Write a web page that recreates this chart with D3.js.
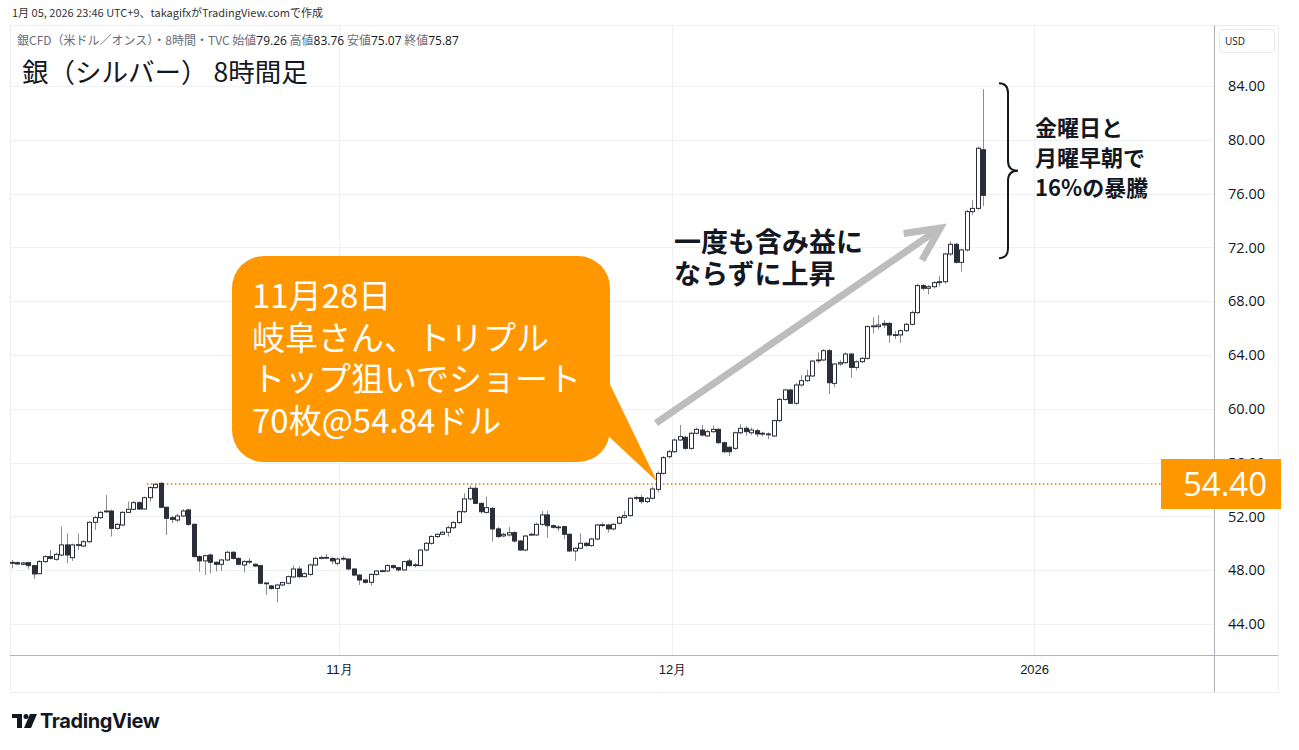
<!DOCTYPE html>
<html><head><meta charset="utf-8">
<script src="https://cdn.jsdelivr.net/npm/d3@7"></script>
<style>
body{margin:0;background:#fff;}
svg{display:block;font-family:"Noto Sans CJK JP","Noto Sans",sans-serif;}
</style></head><body>
<svg id="c" width="1299" height="750"></svg>
<script>
// ---- data (8-hour candles, index 0..176) ----
const opens=[48.58,48.56,48.44,48.56,48.34,47.74,48.64,49.01,48.81,49.13,49.88,48.93,49.88,49.80,50.12,51.56,51.91,52.35,52.40,51.11,51.36,52.30,52.53,53.02,52.55,53.39,54.14,54.46,52.68,51.91,51.73,52.03,52.48,51.41,49.01,48.69,49.13,48.59,48.44,48.76,49.33,48.88,48.39,48.64,48.44,48.34,47.03,46.83,46.65,46.90,47.03,47.50,48.09,47.52,47.69,48.39,48.90,48.93,48.88,48.51,48.86,48.83,48.09,47.64,47.27,47.10,47.69,47.94,47.94,48.34,48.19,48.02,48.69,48.38,48.34,49.50,50.00,50.50,50.67,50.82,51.16,51.54,52.35,53.30,54.09,52.97,52.30,52.60,51.07,50.55,50.62,50.79,50.17,49.50,50.65,50.62,51.41,52.11,51.31,51.19,51.24,50.67,49.43,49.63,50.00,49.83,50.32,51.36,51.36,51.07,51.49,51.93,52.06,53.38,53.40,53.10,53.35,54.01,55.20,56.44,56.81,57.68,57.88,57.06,58.18,58.42,57.98,58.30,58.47,57.48,57.14,57.06,58.22,58.55,58.22,58.37,58.18,58.13,57.98,59.12,60.70,61.40,60.41,61.77,62.09,62.44,63.60,63.63,64.32,61.89,63.33,63.43,64.07,63.08,63.50,63.75,66.14,66.11,66.35,66.35,65.49,65.49,65.81,66.28,67.15,69.16,68.96,69.08,69.38,69.45,71.51,72.23,70.89,71.81,74.66,74.90,79.26];
const highs=[48.76,48.64,48.60,48.62,48.40,48.76,49.13,49.50,49.30,51.24,50.74,49.98,50.74,50.25,51.65,52.05,52.40,53.59,52.50,51.50,52.40,53.10,53.15,53.12,53.47,54.25,54.45,54.55,52.75,52.05,52.20,52.55,52.55,51.50,49.10,49.15,49.25,48.65,48.85,49.45,49.42,48.95,48.75,48.90,48.50,48.40,47.10,46.90,47.00,47.15,47.60,48.35,48.30,47.85,48.50,49.00,49.10,49.20,48.95,48.95,49.05,48.90,48.15,47.70,47.35,47.75,48.00,48.05,48.45,48.40,48.25,48.70,48.88,48.55,49.55,50.10,50.60,50.75,50.90,51.30,51.65,52.45,53.72,54.30,54.30,53.05,53.47,52.70,51.20,50.80,51.20,50.90,50.25,50.62,50.80,51.55,52.40,52.40,51.40,51.35,51.30,50.75,49.70,50.75,50.10,50.40,51.45,51.55,51.45,51.50,52.05,52.40,53.45,53.55,53.60,53.45,54.20,55.35,56.50,56.95,57.80,58.80,58.00,58.30,58.60,58.80,58.45,58.75,58.60,57.55,57.25,58.30,58.85,58.70,58.60,58.50,58.30,58.25,59.20,60.80,61.50,61.50,61.90,62.50,62.90,63.65,64.20,64.45,64.45,63.40,63.60,64.20,64.15,63.60,63.85,66.20,66.80,66.95,66.60,66.45,65.80,65.90,66.40,67.30,69.30,69.30,69.20,69.50,69.90,71.60,72.45,72.35,71.90,74.80,75.50,79.50,83.76];
const lows=[48.14,48.40,48.38,48.10,47.35,47.70,48.55,48.80,48.70,49.05,48.51,48.69,49.50,49.70,50.00,51.00,51.80,52.25,50.50,51.00,51.30,52.25,52.45,52.48,52.50,53.10,54.05,52.60,50.62,51.50,51.55,51.95,51.30,48.95,47.89,47.64,47.77,47.90,47.95,48.70,48.80,48.35,47.84,48.45,48.25,46.95,46.16,46.55,45.61,46.80,46.95,47.40,47.40,47.45,47.60,48.30,48.80,48.85,48.45,48.35,48.70,48.00,47.55,46.90,47.00,46.85,47.60,47.85,47.85,48.10,47.90,47.95,48.25,48.20,48.30,49.40,49.90,50.40,50.60,50.50,51.05,51.45,52.25,53.20,52.90,52.20,52.20,50.12,50.40,50.45,50.50,50.05,49.45,49.40,50.55,50.55,51.30,50.40,51.10,50.90,50.30,49.35,48.69,49.55,49.75,49.75,50.25,51.20,50.80,50.95,51.40,51.85,52.00,53.20,52.95,53.00,53.25,53.80,55.10,56.30,56.70,57.60,56.95,56.95,58.10,57.95,57.90,58.20,57.40,56.70,56.50,56.95,58.10,58.00,58.05,57.90,57.95,57.75,57.90,59.00,60.60,60.35,60.30,61.65,62.00,62.35,63.40,63.55,61.10,61.60,63.20,63.35,62.30,62.85,63.40,63.65,65.60,65.90,66.00,64.90,65.20,64.90,65.70,66.20,67.05,68.80,68.50,68.95,69.10,69.30,71.35,70.80,70.20,71.70,74.40,74.80,75.07];
const closes=[48.55,48.46,48.54,48.34,47.72,48.64,49.01,48.88,49.18,49.88,49.13,49.88,49.90,50.12,51.56,51.91,52.30,52.40,51.11,51.41,52.30,52.53,53.02,52.55,53.39,54.14,54.39,52.68,51.86,51.78,52.03,52.40,51.41,49.01,48.69,49.08,48.59,48.44,48.76,49.33,48.88,48.44,48.64,48.66,48.31,47.03,47.05,46.65,46.90,47.08,47.52,48.09,47.52,47.74,48.39,48.88,48.94,48.95,48.69,48.83,48.88,48.09,47.64,47.27,47.10,47.69,47.94,47.96,48.34,48.19,48.02,48.64,48.34,48.40,49.50,50.00,50.50,50.67,50.82,51.16,51.54,52.35,53.30,54.09,52.97,52.35,52.65,51.07,50.50,50.67,50.79,50.17,49.50,50.54,50.67,51.41,52.11,51.31,51.19,51.21,50.67,49.43,49.63,50.00,49.83,50.32,51.36,51.38,51.07,51.41,51.93,52.06,53.35,53.40,53.10,53.35,54.04,55.20,56.37,56.81,57.68,57.93,57.06,58.18,58.47,58.05,58.30,58.47,57.48,56.81,56.81,58.22,58.55,58.30,58.42,58.13,58.16,58.11,59.12,60.70,61.40,60.41,61.77,62.09,62.44,63.55,63.63,64.32,61.94,63.33,63.43,64.07,63.08,63.50,63.75,66.11,66.16,66.23,66.23,65.49,65.51,65.81,66.28,67.15,69.16,68.96,69.08,69.38,69.45,71.51,72.23,70.89,71.81,74.66,74.90,79.37,75.87];
const priceTicks=[44,48,52,56,60,64,68,72,76,80,84];
const timeTickIdx=[59.3,119.6,185.2];
const timeTickLabels=["11月","12月","2026"];
const levelPrice=54.40;
const levelStartIdx=24.5;
const arrowFrom=[116.7,58.94], arrowTo=[168.2,73.44];
const calloutTip=[116.9,54.60];
const braceTop=84.2, braceBottom=71.2;
const calloutLines=["11月28日","岐阜さん、トリプル","トップ狙いでショート","70枚@54.84ドル"];
const arrowText=["一度も含み益に","ならずに上昇"];
const braceText=["金曜日と","月曜早朝で","16%の暴騰"];

// ---- layout ----
const svg=d3.select("#c");
const paneL=10, paneR=1214, paneT=25, paneB=655, axisR=1278, bottomB=692;
const x=d3.scaleLinear().domain([0,176]).range([11.7,983.3]);
const y=d3.scaleLinear().domain([44,84]).range([624,86]);
const candles=opens.map((o,i)=>({i,o,h:highs[i],l:lows[i],c:closes[i]}));

// credit line
svg.append("text").attr("x",12).attr("y",17).attr("font-size",11).attr("fill","#333")
  .text("1月 05, 2026 23:46 UTC+9、takagifxがTradingView.comで作成");

// pane frame
svg.append("rect").attr("x",paneL+0.5).attr("y",paneT+0.5).attr("width",axisR-paneL).attr("height",bottomB-paneT)
  .attr("fill","#fff").attr("stroke","#eceef2");

// grid
svg.append("g").selectAll("line").data(priceTicks).join("line")
  .attr("x1",paneL).attr("x2",paneR).attr("y1",d=>Math.round(y(d))+0.5).attr("y2",d=>Math.round(y(d))+0.5)
  .attr("stroke","#eef0f4");
svg.append("g").selectAll("line").data(timeTickIdx).join("line")
  .attr("x1",d=>Math.round(x(d))+0.5).attr("x2",d=>Math.round(x(d))+0.5).attr("y1",paneT).attr("y2",paneB)
  .attr("stroke","#eef0f4");

// axis lines
svg.append("line").attr("x1",paneL).attr("x2",axisR).attr("y1",paneB+0.5).attr("y2",paneB+0.5).attr("stroke","#b2b5be");
svg.append("line").attr("x1",paneR+0.5).attr("x2",paneR+0.5).attr("y1",paneT).attr("y2",bottomB).attr("stroke","#b2b5be");

// right axis
const ya=svg.append("g").attr("transform",`translate(${paneR},0)`)
  .call(d3.axisRight(y).tickValues(priceTicks).tickFormat(d3.format(".2f")).tickSize(0).tickPadding(14));
ya.select(".domain").remove();
ya.selectAll("text").attr("font-size",14.5).attr("fill","#131722").attr("font-family","'Open Sans','Noto Sans',sans-serif");

// USD box
svg.append("rect").attr("x",1219.5).attr("y",29.5).attr("width",55).attr("height",23).attr("rx",3)
  .attr("fill","#fff").attr("stroke","#e6e8ee");
svg.append("text").attr("x",1225).attr("y",45).attr("font-size",10).attr("fill","#131722")
  .attr("font-family","'Open Sans',sans-serif").text("USD");

// bottom axis
const xa=svg.append("g").attr("transform",`translate(0,${paneB})`)
  .call(d3.axisBottom(x).tickValues(timeTickIdx).tickFormat((d,k)=>timeTickLabels[k]).tickSize(0).tickPadding(10));
xa.select(".domain").remove();
xa.selectAll("text").attr("font-size",13).attr("fill","#131722");

// header texts
const hdr=svg.append("text").attr("x",17).attr("y",45).attr("font-size",12).attr("fill","#6a6d78");
hdr.append("tspan").text("銀CFD（米ドル／オンス）・8時間・TVC ");
[["始値","79.26"],["高値","83.76"],["安値","75.07"],["終値","75.87"]].forEach(([k,v])=>{
  hdr.append("tspan").text(" "+k);
  hdr.append("tspan").attr("fill","#131722").attr("font-family","'Open Sans',sans-serif").text(v);
});
svg.append("text").attr("x",22).attr("y",82).attr("font-size",26.5).attr("fill","#131722").text("銀（シルバー） 8時間足");

// level dotted line
svg.append("line").attr("x1",x(levelStartIdx)).attr("x2",1162).attr("y1",y(levelPrice)).attr("y2",y(levelPrice))
  .attr("stroke","#f7931a").attr("stroke-width",2).attr("stroke-dasharray","1.5,2.5");

// candles
const cg=svg.append("g");
cg.selectAll("line").data(candles).join("line")
  .attr("x1",d=>Math.round(x(d.i))+0.5).attr("x2",d=>Math.round(x(d.i))+0.5)
  .attr("y1",d=>y(d.h)).attr("y2",d=>y(d.l)).attr("stroke","#8a8d96").attr("stroke-width",1);
cg.selectAll("rect").data(candles).join("rect")
  .attr("x",d=>Math.round(x(d.i))-1.5)
  .attr("width",4)
  .attr("y",d=>y(Math.max(d.o,d.c)))
  .attr("height",d=>Math.max(0.8,Math.abs(y(d.o)-y(d.c))))
  .attr("fill",d=>d.c>=d.o?"#fff":"#2a2e39")
  .attr("stroke","#2a2e39").attr("stroke-width",1);

// callout
const tipX=x(calloutTip[0]), tipY=y(calloutTip[1]);
const bx=232,by=256,bw=378,bh=206,r=32;
const cal=svg.append("g");
cal.append("rect").attr("x",bx).attr("y",by).attr("width",bw).attr("height",bh).attr("rx",r).attr("fill","#ff9800");
cal.append("path").attr("d",`M${bx+bw-6},372 L${tipX},${tipY} L${bx+bw-6},432 Z`).attr("fill","#ff9800");
calloutLines.forEach((t,k)=>{
  cal.append("text").attr("x",252).attr("y",308+k*41.7).attr("font-size",33).attr("fill","#fff").text(t);
});

// arrow
const ax1=x(arrowFrom[0]), ay1=y(arrowFrom[1]), ax2=x(arrowTo[0]), ay2=y(arrowTo[1]);
const ang=Math.atan2(ay2-ay1,ax2-ax1);
const L=37, spread=26*Math.PI/180;
const arm=(s)=>[ax2-L*Math.cos(ang+s), ay2-L*Math.sin(ang+s)];
const ag=svg.append("g").attr("stroke","#bdbdbd").attr("stroke-width",7).attr("fill","none");
ag.append("line").attr("x1",ax1).attr("y1",ay1).attr("x2",ax2-3*Math.cos(ang)).attr("y2",ay2-3*Math.sin(ang));
ag.append("polyline").attr("points",[arm(spread),[ax2,ay2],arm(-spread)].map(p=>p.join(",")).join(" "))
  .attr("stroke-linejoin","miter");

arrowText.forEach((t,k)=>{
  svg.append("text").attr("x",674).attr("y",252+k*32).attr("font-size",27).attr("font-weight",700).attr("fill","#131722").text(t);
});

// brace
const bt=y(braceTop), bb=y(braceBottom), bm=(bt+bb)/2;
svg.append("path").attr("fill","none").attr("stroke","#131722").attr("stroke-width",2)
  .attr("d",`M999,${bt} Q1008,${bt} 1008,${bt+10} L1008,${bm-10} Q1008,${bm} 1018,${bm} Q1008,${bm} 1008,${bm+10} L1008,${bb-10} Q1008,${bb} 999,${bb}`);
braceText.forEach((t,k)=>{
  svg.append("text").attr("x",1035).attr("y",136+k*30).attr("font-size",22).attr("font-weight",700).attr("fill","#131722").text(t);
});

// price label
svg.append("rect").attr("x",1161).attr("y",459).attr("width",120).attr("height",50).attr("fill","#ff9800");
svg.append("text").attr("x",1225).attr("y",496).attr("text-anchor","middle").attr("font-size",33).attr("fill","#fff")
  .attr("font-family","'Open Sans','Noto Sans',sans-serif").text(levelPrice.toFixed(2));

// TradingView logo
const lg=svg.append("g").attr("fill","#131722");
lg.append("rect").attr("x",12).attr("y",714).attr("width",10).attr("height",4);
lg.append("rect").attr("x",17).attr("y",714).attr("width",5).attr("height",14);
lg.append("circle").attr("cx",26).attr("cy",716.5).attr("r",2.5);
lg.append("path").attr("d","M30,714 L37,714 L31,728 L24,728 Z");
svg.append("text").attr("x",40).attr("y",728).attr("font-size",20).attr("font-weight",700)
  .attr("font-family","Inter,Roboto,sans-serif").attr("fill","#131722").attr("letter-spacing",-0.4).text("TradingView");
</script>
</body></html>
